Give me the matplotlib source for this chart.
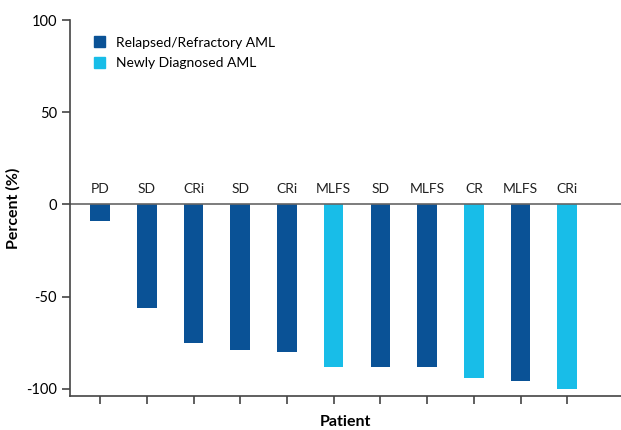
import matplotlib.pyplot as plt
from matplotlib.patches import Patch

responses = ['PD', 'SD', 'CRi', 'SD', 'CRi', 'MLFS', 'SD', 'MLFS', 'CR', 'MLFS', 'CRi']
percent = [-9, -56, -75, -79, -80, -88, -88, -88, -94, -96, -100]
group = ['RR', 'RR', 'RR', 'RR', 'RR', 'ND', 'RR', 'RR', 'ND', 'RR', 'ND']

dark = '#0a5296'
light = '#18bde8'
colors = [dark if g == 'RR' else light for g in group]

plt.rcParams['font.family'] = ['Lato', 'DejaVu Sans']

fig = plt.figure(figsize=(6.21, 4.3), dpi=100)
ax = fig.add_axes([0.113, 0.079, 0.887, 0.874])

x = list(range(len(percent)))
ax.bar(x, percent, width=0.42, color=colors)
ax.axhline(0, color='#666666', lw=1.2)

for i, lab in enumerate(responses):
    ax.text(i, 5, lab, ha='center', va='bottom', fontsize=10, color='#222222')

ax.set_xlim(-0.64, 11.15)
ax.set_ylim(-104, 100)
ax.set_yticks([-100, -50, 0, 50, 100])
ax.set_yticklabels(['-100', '-50', '0', '50', '100'], fontsize=10.5)
ax.set_xticks(x)
ax.set_xticklabels([''] * len(x))
ax.spines['top'].set_visible(False)
ax.spines['right'].set_visible(False)
for s in ['left', 'bottom']:
    ax.spines[s].set_color('#444444')
    ax.spines[s].set_linewidth(1.2)
ax.tick_params(color='#444444', length=6, width=1.2)
ax.set_ylabel('Percent (%)', fontsize=11.5, fontweight='bold')
ax.set_xlabel('Patient', fontsize=11.5, fontweight='bold', labelpad=4)

handles = [Patch(color=dark, label='Relapsed/Refractory AML'),
           Patch(color=light, label='Newly Diagnosed AML')]
ax.legend(handles=handles, loc='upper left', bbox_to_anchor=(0.02, 0.99), frameon=False,
          fontsize=10, handlelength=0.8, handleheight=0.8, handletextpad=0.8, labelspacing=0.6)

fig.savefig('out.png', dpi=100)
